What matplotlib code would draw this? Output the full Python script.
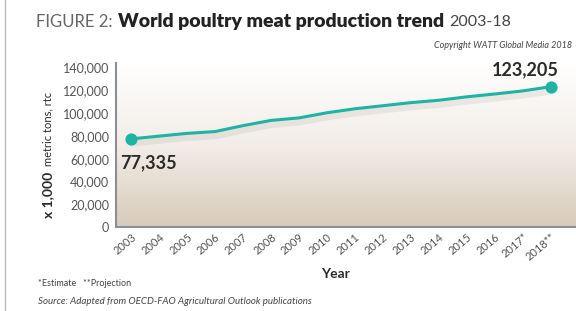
import matplotlib
matplotlib.use("Agg")
import matplotlib.pyplot as plt
import matplotlib.patheffects as pe
from matplotlib.colors import LinearSegmentedColormap
from matplotlib.lines import Line2D
import numpy as np

plt.rcParams["font.family"] = ["Lato", "DejaVu Sans"]

# data (x 1,000 metric tons, rtc)
years = [2003, 2004, 2005, 2006, 2007, 2008, 2009, 2010,
         2011, 2012, 2013, 2014, 2015, 2016, 2017, 2018]
year_labels = ["2003", "2004", "2005", "2006", "2007", "2008", "2009", "2010",
               "2011", "2012", "2013", "2014", "2015", "2016", "2017*", "2018**"]
production = [77335, 79800, 82200, 83800, 89000, 93600, 95800, 100300,
              103800, 106500, 109200, 111300, 114300, 116800, 119500, 123205]
yticks = [0, 20000, 40000, 60000, 80000, 100000, 120000, 140000]

TEAL = "#1fb3a4"
GREY = "#555555"

fig = plt.figure(figsize=(5.76, 3.11), dpi=100)
fig.patch.set_facecolor("white")
ax = fig.add_axes([116 / 576, 1 - 227 / 311, 1 - 116 / 576, (227 - 63) / 311])

# gradient background
xlim = (2002.46, 2018.9)
ylim = (0, 144000)
grad = np.linspace(0, 1, 256).reshape(-1, 1)
cmap = LinearSegmentedColormap.from_list("bg", ["#ffffff", "#f2ede7", "#d8cabb"])
ax.imshow(grad, aspect="auto", cmap=cmap, origin="upper",
          extent=[xlim[0], xlim[1], ylim[0], ylim[1]], zorder=0)

ax.plot(years, production, color=TEAL, lw=2.2, zorder=3, solid_capstyle="round",
        path_effects=[pe.SimpleLineShadow(offset=(0.5, -3), shadow_color="#9a8f86",
                                          alpha=0.15, linewidth=5), pe.Normal()])
ax.scatter([years[0], years[-1]], [production[0], production[-1]],
           s=60, color=TEAL, zorder=4)

ax.annotate(f"{production[0]:,}", (years[0], production[0]), xytext=(-8, -11),
            textcoords="offset points", ha="left", va="top",
            fontsize=13, fontweight="bold", color="#2a2a2a")
ax.annotate(f"{production[-1]:,}", (years[-1], production[-1]), xytext=(6, 6),
            textcoords="offset points", ha="right", va="bottom",
            fontsize=13, fontweight="bold", color="#2a2a2a")

ax.set_xlim(*xlim)
ax.set_ylim(*ylim)
ax.set_xticks(years)
ax.set_xticklabels(year_labels, rotation=40, ha="right", rotation_mode="anchor",
                   fontsize=8, color=GREY)
ax.set_yticks(yticks)
ax.set_yticklabels([f"{v:,}" for v in yticks], fontsize=9, color=GREY)
ax.tick_params(length=0, pad=5)
ax.tick_params(axis="x", pad=3)
for s in ["top", "right"]:
    ax.spines[s].set_visible(False)
ax.spines["left"].set_color("#8a8f96")
ax.spines["bottom"].set_color("#8a8f96")
ax.spines["left"].set_linewidth(1.5)
ax.spines["bottom"].set_linewidth(1.5)

# axis labels
fig.text(335 / 576, 1 - 274 / 311, "Year", ha="center", va="center",
         fontsize=10, fontweight="bold", color="#2a2a2a")
fig.text(48 / 576, 1 - 195 / 311, "x 1,000", rotation=90, ha="center", va="center",
         fontsize=10, fontweight="bold", color="#2a2a2a")
fig.text(48 / 576, 1 - 129 / 311, "metric tons, rtc", rotation=90, ha="center",
         va="center", fontsize=8, color="#2a2a2a")

# title
fig.text(36 / 576, 1 - 22 / 311, "FIGURE 2:", ha="left", va="center",
         fontsize=12, color="#666666")
fig.text(118 / 576, 1 - 22 / 311, "World poultry meat production trend", ha="left",
         va="center", fontsize=14, fontweight="heavy", color="#222222")
fig.text(449 / 576, 1 - 22 / 311, "2003-18", ha="left", va="center",
         fontsize=11.5, color="#444444")
fig.text(572 / 576, 1 - 45 / 311, "Copyright WATT Global Media 2018", ha="right",
         va="center", fontsize=6.5, style="italic", color="#444444")

# footnotes
fig.text(38 / 576, 1 - 284 / 311, "*Estimate   **Projection", ha="left",
         va="center", fontsize=6.5, color="#444444")
fig.text(38 / 576, 1 - 302 / 311,
         "Source: Adapted from OECD-FAO Agricultural Outlook publications",
         ha="left", va="center", fontsize=7, style="italic", color="#444444")

# left frame line
fig.add_artist(Line2D([5 / 576, 5 / 576], [0, 1], color="#bbbbbb", lw=1,
                      transform=fig.transFigure))

fig.savefig("out.png", dpi=100, facecolor="white")
